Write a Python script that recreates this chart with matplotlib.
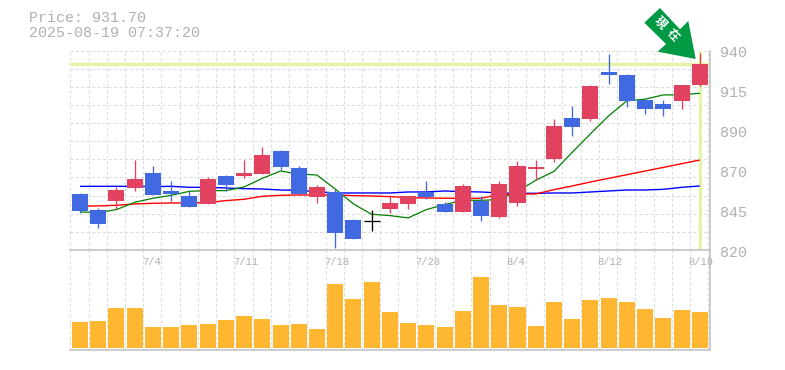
#!/usr/bin/python

import numpy as np
import matplotlib
matplotlib.use('Agg')
import matplotlib.pyplot as plt
from matplotlib.patches import Polygon
from matplotlib.transforms import IdentityTransform

# ============ Data =========================

price_title = "Price: 931.70"
time_title = "2025-08-19 07:37:20"
last_price = 931.7

opens = [853.9, 844.3, 849.7, 857.5, 866.5, 855.7, 852.7, 847.9, 864.7, 864.7, 865.9, 879.7,
         869.5, 852.1, 855.1, 838.3, 837.7, 844.9, 847.9, 855.1, 847.9, 843.1, 849.7, 840.1,
         848.5, 868.9, 874.9, 899.5, 898.9, 926.8, 925.3, 910.3, 907.9, 909.7, 919.3]
highs = [854.5, 845.5, 858.1, 874.3, 870.7, 861.7, 855.7, 864.1, 865.3, 874.3, 882.1, 880.3,
         870.7, 859.3, 856.9, 838.9, 844.3, 853.3, 852.7, 861.7, 849.1, 859.9, 852.7, 861.7,
         873.7, 874.3, 898.9, 906.7, 919.3, 937.9, 925.9, 910.3, 910.3, 919.3, 938.5]
lows = [842.5, 833.5, 844.9, 855.7, 853.3, 849.7, 846.1, 847.9, 855.7, 863.5, 865.9, 868.3,
        853.9, 848.5, 821.5, 826.9, 831.7, 842.5, 844.9, 850.9, 843.1, 843.1, 837.7, 839.5,
        846.7, 862.3, 873.1, 888.7, 897.7, 919.9, 906.1, 901.9, 900.7, 904.9, 918.7]
closes = [843.7, 835.9, 856.3, 862.9, 853.3, 853.9, 846.1, 862.9, 859.3, 866.5, 877.3, 870.1,
          853.9, 858.1, 830.5, 826.9, 837.7, 848.5, 852.7, 852.1, 843.1, 858.7, 840.7, 859.9,
          870.7, 870.1, 894.7, 894.1, 918.7, 925.3, 909.7, 904.9, 904.9, 919.3, 931.7]

ma_short = [842.9, 842.5, 844.3, 848.7, 851.1, 852.9, 855.3, 855.7, 855.7, 857.9, 863.1, 867.5,
            865.7, 865.1, 856.7, 847.7, 841.5, 840.7, 839.3, 844.3, 847.3, 849.9, 849.9, 850.3,
            855.3, 861.9, 867.3, 878.7, 889.9, 900.7, 909.7, 910.7, 913.3, 913.3, 914.3]
ma_mid = [846.5, 846.5, 846.9, 847.7, 848.1, 848.3, 848.3, 848.5, 849.7, 850.5, 852.3, 852.9,
          853.1, 853.1, 853.1, 852.7, 852.5, 852.1, 851.5, 851.3, 851.1, 851.1, 851.1, 853.3,
          853.7, 853.7, 856.3, 858.5, 860.9, 863.1, 865.3, 867.5, 869.7, 871.9, 874.1]
ma_long = [858.3, 858.3, 858.3, 858.3, 858.1, 858.3, 857.7, 857.7, 857.3, 856.9, 856.7, 856.1,
           855.9, 855.1, 854.3, 854.3, 854.3, 854.3, 854.9, 854.9, 855.5, 855.1, 854.9, 854.3,
           854.1, 854.1, 854.3, 854.3, 854.9, 855.5, 856.1, 856.1, 856.5, 857.7, 858.5]

volumes = [78, 81, 120, 120, 63, 63, 69, 72, 84, 96, 87, 69, 72, 57, 192, 147, 198, 108,
           75, 69, 63, 111, 213, 129, 123, 66, 138, 87, 144, 150, 138, 117, 90, 114, 108]

date_idx = [4, 9, 14, 19, 24, 29, 34]
date_labels = ["7/4", "7/11", "7/18", "7/28", "8/4", "8/12", "8/19"]

price_ticks = [820, 844, 868, 892, 916, 940]
price_labels = ["820", "845", "870", "890", "915", "940"]

# ============ Styles =======================

W, H = 785, 370
up_color = "#E1425F"
down_color = "#4169E1"
doji_color = "black"
vol_color = "#FFB732"
grid_color = "#DCDCDC"
frame_color = "#BEBEBE"
text_color = "#B0B0B0"
now_color = "#E4F4A8"
arrow_color = "#009944"
mono = "Liberation Mono"

x = np.arange(len(opens))
xlim = (-0.532, 34.56)
slot_edges = np.arange(len(opens) + 1) + xlim[0]
body_w = 0.878


def add_axes_px(left, top, right, bottom):
    return fig.add_axes([left / W, (H - bottom) / H, (right - left) / W, (bottom - top) / H])


fig = plt.figure(figsize=(W / 100, H / 100), dpi=100)
ax1 = add_axes_px(70.3, 50.5, 710, 250)
ax2 = add_axes_px(70.3, 250, 710, 350)

for ax in (ax1, ax2):
    ax.set_xlim(*xlim)
    ax.set_xticks([])
    ax.set_yticks([])
    ax.patch.set_alpha(0)
    ax.spines['left'].set_visible(False)
    ax.spines['top'].set_visible(False)
    for side in ('right', 'bottom'):
        ax.spines[side].set_color(frame_color)
        ax.spines[side].set_linewidth(1.1)
    for edge in slot_edges:
        ax.axvline(edge, color=grid_color, lw=0.75, ls=(0, (3, 2.2)), zorder=0)

### Price panel.
ax1.set_ylim(820, 940)
for level in np.linspace(820, 940, 12)[1:]:
    ax1.axhline(level, color=grid_color, lw=0.75, ls=(0, (3, 2.2)), zorder=0, clip_on=False)

ax1.axhline(last_price, color=now_color, lw=2.5, zorder=1)
ax1.axvline(x[-1], color=now_color, lw=2.5, zorder=1)

ax1.plot(x, ma_long, color="#0000FF", lw=1.0, zorder=2, solid_capstyle='butt')
ax1.plot(x, ma_mid, color="#FF0000", lw=1.0, zorder=2.1, solid_capstyle='butt')
ax1.plot(x, ma_short, color="#008000", lw=0.9, zorder=2.2, solid_capstyle='butt')

for i, (o, h, l, c) in enumerate(zip(opens, highs, lows, closes)):
    if c == o:
        color = doji_color
    elif c > o:
        color = up_color
    else:
        color = down_color
    ax1.vlines(i, l, h, color=color, lw=0.95, zorder=3)
    if c == o:
        ax1.hlines(o, i - body_w / 2, i + body_w / 2, color=color, lw=0.95, zorder=3)
    else:
        ax1.bar(i, abs(c - o), bottom=min(o, c), width=body_w, color=color, zorder=3.1)

### Volume panel.
ax2.set_ylim(-6, 294)
ax2.bar(x, volumes, width=body_w, color=vol_color, zorder=2)

### Labels.
for level, label in zip(price_ticks, price_labels):
    ax1.annotate(label, (1, level), xycoords=('axes fraction', 'data'), xytext=(7.4, -2.0),
                 textcoords='offset points', ha='left', va='center', color=text_color,
                 fontsize=10.8, family=mono, annotation_clip=False)
for i, label in zip(date_idx, date_labels):
    ax2.annotate(label, (slot_edges[i], 1), xycoords=('data', 'axes fraction'), xytext=(-1.0, -8.6),
                 textcoords='offset points', ha='left', va='center', color=text_color,
                 fontsize=7.6, family=mono, annotation_clip=False, zorder=5)

fig.text(29 / W, 1 - 18 / H, price_title, color=text_color, fontsize=10.8, family=mono,
         ha='left', va='center')
fig.text(29 / W, 1 - 33 / H, time_title, color=text_color, fontsize=10.8, family=mono,
         ha='left', va='center')

### Arrow marker, drawn in pixels from the top left.
arrow_px = [(660, 8), (644.3, 22.7), (666, 44), (657.7, 51.7), (695.7, 59), (688.3, 21), (680, 29.3)]
fig.add_artist(Polygon([(px, H - py) for px, py in arrow_px], closed=True, facecolor=arrow_color,
                       edgecolor='none', transform=IdentityTransform(), zorder=6))
for ch, cx, cy in (("\u73fe", 660, 23), ("\u5728", 673.5, 35)):
    fig.text(cx / W, 1 - cy / H, ch, color="white", fontsize=8.5, rotation=-45,
             rotation_mode='anchor', ha='center', va='center', fontweight='bold',
             family=['Noto Sans CJK JP', 'DejaVu Sans'], zorder=7)

plt.savefig("out.png", dpi=100)
